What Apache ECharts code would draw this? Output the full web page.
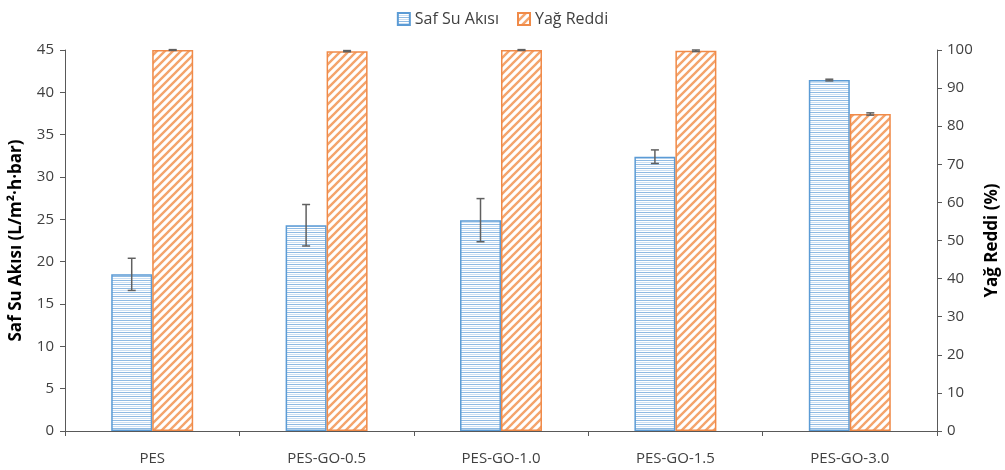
<!DOCTYPE html>
<html>
<head>
<meta charset="utf-8">
<script src="https://cdn.jsdelivr.net/npm/echarts@6/dist/echarts.min.js"></script>
<style>
  html, body { margin: 0; padding: 0; background: #fff; }
  #chart { width: 1005px; height: 470px; }
</style>
</head>
<body>
<div id="chart"></div>
<script>
// Membrane samples
const categories = ['PES', 'PES-GO-0.5', 'PES-GO-1.0', 'PES-GO-1.5', 'PES-GO-3.0'];
// Pure water flux (L/m²·h·bar) and its standard deviation
const fluxValues = [18.5, 24.3, 24.9, 32.4, 41.45];
const fluxErrors = [1.9, 2.45, 2.55, 0.8, 0.1];
// Oil rejection (%) and its standard deviation
const rejectionValues = [100, 99.7, 100, 99.8, 83.2];
const rejectionErrors = [0.1, 0.15, 0.1, 0.2, 0.3];
// Axis ticks
const leftTicks = { min: 0, max: 45, interval: 5 };
const rightTicks = { min: 0, max: 100, interval: 10 };

const BAR_FRAC = 0.235;
const FONT = '"Open Sans", "Liberation Sans", sans-serif';

function stripePattern() {
  const c = document.createElement('canvas');
  c.width = 8; c.height = 4;
  const g = c.getContext('2d');
  g.fillStyle = '#ffffff'; g.fillRect(0, 0, 8, 4);
  g.fillStyle = '#8FBAE3'; g.fillRect(0, 0, 8, 1);
  g.fillStyle = '#CCDFF2'; g.fillRect(0, 2, 8, 1);
  return c;
}
function hatchPattern() {
  const s = 8;
  const c = document.createElement('canvas');
  c.width = s; c.height = s;
  const g = c.getContext('2d');
  g.fillStyle = '#ffffff'; g.fillRect(0, 0, s, s);
  g.strokeStyle = '#F4A46C'; g.lineWidth = 2.4;
  g.beginPath();
  g.moveTo(-2, s + 2); g.lineTo(s + 2, -2);
  g.moveTo(-2, 2); g.lineTo(2, -2);
  g.moveTo(s - 2, s + 2); g.lineTo(s + 2, s - 2);
  g.stroke();
  return c;
}

function errorSeries(values, errors, yAxisIndex, side) {
  const data = values.map((v, i) => [i, v, errors[i]]);
  return {
    type: 'custom',
    yAxisIndex: yAxisIndex,
    silent: true,
    z: 10,
    data: data,
    renderItem: function (params, api) {
      const i = api.value(0), v = api.value(1), e = api.value(2);
      const band = api.size([1, 0])[0];
      const dx = side * band * BAR_FRAC / 2;
      const top = api.coord([i, v + e]);
      const bot = api.coord([i, v - e]);
      const x = top[0] + dx;
      const cap = 4;
      const style = { stroke: '#606060', lineWidth: 1.5 };
      return {
        type: 'group',
        children: [
          { type: 'line', shape: { x1: x, y1: top[1], x2: x, y2: bot[1] }, style: style },
          { type: 'line', shape: { x1: x - cap, y1: top[1], x2: x + cap, y2: top[1] }, style: style },
          { type: 'line', shape: { x1: x - cap, y1: bot[1], x2: x + cap, y2: bot[1] }, style: style }
        ]
      };
    }
  };
}

const chart = echarts.init(document.getElementById('chart'), null, { renderer: 'canvas' });
const axisLineStyle = { color: '#595959', width: 1 };
const labelStyle = { color: '#404040', fontSize: 15, fontFamily: FONT };

chart.setOption({
  animation: false,
  backgroundColor: '#ffffff',
  textStyle: { fontFamily: FONT },
  legend: {
    top: 6,
    left: 'center',
    icon: 'rect',
    itemWidth: 12,
    itemHeight: 12,
    itemGap: 18,
    textStyle: { color: '#404040', fontSize: 16, fontFamily: FONT },
    data: ['Saf Su Akısı', 'Yağ Reddi']
  },
  grid: { left: 65, right: 68, top: 50, bottom: 39, containLabel: false, outerBoundsMode: 'none' },
  xAxis: {
    type: 'category',
    data: categories,
    axisLine: { lineStyle: axisLineStyle },
    axisTick: { show: true, alignWithLabel: false, length: 5, lineStyle: axisLineStyle },
    axisLabel: Object.assign({ margin: 20 }, labelStyle)
  },
  yAxis: [
    {
      type: 'value',
      min: leftTicks.min, max: leftTicks.max, interval: leftTicks.interval,
      name: 'Saf Su Akısı (L/m²·h·bar)',
      nameLocation: 'middle',
      nameRotate: 90,
      nameGap: 40,
      nameTextStyle: { color: '#000', fontSize: 17, fontWeight: 'bold', fontFamily: FONT },
      axisLine: { show: true, lineStyle: axisLineStyle },
      axisTick: { show: true, length: 5, lineStyle: axisLineStyle },
      axisLabel: Object.assign({ margin: 11 }, labelStyle),
      splitLine: { show: false }
    },
    {
      type: 'value',
      position: 'right',
      min: rightTicks.min, max: rightTicks.max, interval: rightTicks.interval,
      name: 'Yağ Reddi (%)',
      nameLocation: 'middle',
      nameRotate: 90,
      nameGap: 47,
      nameTextStyle: { color: '#000', fontSize: 17, fontWeight: 'bold', fontFamily: FONT },
      axisLine: { show: true, lineStyle: axisLineStyle },
      axisTick: { show: true, length: 5, lineStyle: axisLineStyle },
      axisLabel: Object.assign({ margin: 10 }, labelStyle),
      splitLine: { show: false }
    }
  ],
  series: [
    {
      name: 'Saf Su Akısı',
      type: 'bar',
      yAxisIndex: 0,
      barWidth: (BAR_FRAC * 100) + '%',
      barGap: '0%',
      data: fluxValues,
      itemStyle: {
        color: { image: stripePattern(), repeat: 'repeat' },
        borderColor: '#5B9BD5',
        borderWidth: 1.5
      }
    },
    {
      name: 'Yağ Reddi',
      type: 'bar',
      yAxisIndex: 1,
      barWidth: (BAR_FRAC * 100) + '%',
      barGap: '0%',
      data: rejectionValues,
      itemStyle: {
        color: { image: hatchPattern(), repeat: 'repeat' },
        borderColor: '#F08A48',
        borderWidth: 1.5
      }
    },
    errorSeries(fluxValues, fluxErrors, 0, -1),
    errorSeries(rejectionValues, rejectionErrors, 1, 1)
  ]
});
</script>
</body>
</html>
